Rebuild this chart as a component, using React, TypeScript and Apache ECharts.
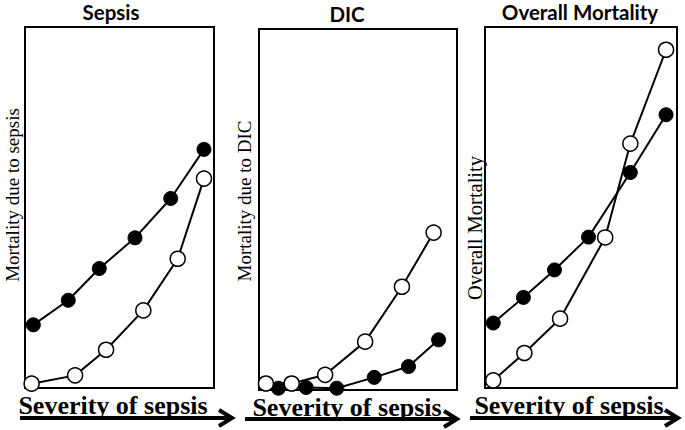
import React, { useEffect, useRef } from "react";
import * as echarts from "echarts";

// Panel titles and axis labels
const panelTitles = ["Sepsis", "DIC", "Overall Mortality"];
const yAxisLabels = ["Mortality due to sepsis", "Mortality due to DIC", "Overall Mortality"];
const xAxisLabel = "Severity of sepsis";

// Sepsis panel (relative units 0-100)
const sepsisFilledX = [4.4, 22.9, 39.3, 58.2, 77.1, 94.7];
const sepsisFilledY = [17.5, 24.3, 33.1, 41.6, 52.5, 66.1];
const sepsisOpenX = [3.5, 26.5, 42.9, 62.6, 80.8, 94.7];
const sepsisOpenY = [1.2, 3.5, 10.6, 21.5, 35.8, 58.0];

// DIC panel
const dicFilledX = [9.8, 23.8, 39.3, 58.2, 75.5, 90.7];
const dicFilledY = [0.5, 0.7, 0.5, 3.5, 6.5, 13.9];
const dicOpenX = [3.5, 16.5, 33.4, 53.6, 72.2, 88.2];
const dicOpenY = [1.8, 1.8, 4.2, 13.4, 28.6, 43.6];

// Overall mortality panel
const overallFilledX = [4.3, 20.0, 36.2, 53.9, 75.7, 94.3];
const overallFilledY = [18.0, 25.1, 32.7, 41.8, 59.7, 75.7];
const overallOpenX = [4.3, 20.5, 39.1, 62.6, 75.7, 94.3];
const overallOpenY = [2.1, 9.7, 19.2, 41.7, 67.7, 93.7];

const zip = (xs: number[], ys: number[]) => xs.map((x, i) => [x, ys[i]]);

export default function App() {
  const ref = useRef<HTMLDivElement>(null);

  useEffect(() => {
    if (!ref.current) return;
    const chart = echarts.init(ref.current, undefined, { renderer: "svg" });

    const grids = [
      { left: 25, top: 27, width: 189, height: 361 },
      { left: 259, top: 29, width: 198, height: 361 },
      { left: 485, top: 27, width: 192, height: 361 },
    ].map((g) => ({
      ...g,
      show: true,
      borderColor: "#000",
      borderWidth: 2,
      backgroundColor: "transparent",
    }));

    const axisCommon = {
      type: "value" as const,
      min: 0,
      max: 100,
      axisLine: { show: false },
      axisTick: { show: false },
      axisLabel: { show: false },
      splitLine: { show: false },
    };

    const panels = [
      { filled: zip(sepsisFilledX, sepsisFilledY), open: zip(sepsisOpenX, sepsisOpenY) },
      { filled: zip(dicFilledX, dicFilledY), open: zip(dicOpenX, dicOpenY) },
      { filled: zip(overallFilledX, overallFilledY), open: zip(overallOpenX, overallOpenY) },
    ];

    const series: any[] = [];
    panels.forEach((p, i) => {
      series.push({
        type: "line",
        xAxisIndex: i,
        yAxisIndex: i,
        data: p.filled,
        symbol: "circle",
        symbolSize: 14,
        lineStyle: { color: "#000", width: 2 },
        itemStyle: { color: "#000", borderColor: "#000", borderWidth: 1 },
        z: 2,
      });
      series.push({
        type: "line",
        xAxisIndex: i,
        yAxisIndex: i,
        data: p.open,
        symbol: "circle",
        symbolSize: 15,
        lineStyle: { color: "#000", width: 2 },
        itemStyle: { color: "#fff", borderColor: "#000", borderWidth: 1.5 },
        z: 3,
      });
    });

    const titlePos = [
      [111, 12],
      [347, 14],
      [580, 12],
    ];
    const yLabelPos = [
      [12.5, 195],
      [244.5, 201],
      [474.5, 228],
    ];
    const yLabelSize = [19, 19, 20.5];
    const xLabelPos = [
      [113, 405],
      [347, 407],
      [569, 405],
    ];
    const arrows = [
      { x1: 20, x2: 232, y: 418 },
      { x1: 245, x2: 457, y: 419 },
      { x1: 470, x2: 678, y: 418 },
    ];

    const graphic: any[] = [];
    panelTitles.forEach((t, i) => {
      graphic.push({
        type: "text",
        x: titlePos[i][0],
        y: titlePos[i][1],
        style: {
          text: t,
          font: "bold 20.5px Lato",
          fill: "#000",
          textAlign: "center",
          textVerticalAlign: "middle",
        },
      });
    });
    yAxisLabels.forEach((t, i) => {
      graphic.push({
        type: "text",
        x: yLabelPos[i][0],
        y: yLabelPos[i][1],
        rotation: Math.PI / 2,
        style: {
          text: t,
          font: `${yLabelSize[i]}px "Liberation Serif"`,
          fill: "#000",
          textAlign: "center",
          textVerticalAlign: "middle",
        },
      });
    });
    xLabelPos.forEach((pos) => {
      graphic.push({
        type: "text",
        x: pos[0],
        y: pos[1],
        z: 10,
        style: {
          text: xAxisLabel,
          font: 'bold 26px "Liberation Serif"',
          fill: "#000",
          textAlign: "center",
          textVerticalAlign: "middle",
        },
      });
    });
    arrows.forEach((a) => {
      graphic.push({
        type: "line",
        z: 9,
        shape: { x1: a.x1, y1: a.y, x2: a.x2 - 3, y2: a.y },
        style: { stroke: "#000", lineWidth: 4 },
      });
      graphic.push({
        type: "polyline",
        z: 9,
        shape: {
          points: [
            [a.x2 - 13, a.y - 8],
            [a.x2, a.y],
            [a.x2 - 13, a.y + 8],
          ],
        },
        style: { stroke: "#000", lineWidth: 4, fill: "none", lineJoin: "miter" },
      });
    });

    chart.setOption({
      animation: false,
      backgroundColor: "#fff",
      grid: grids,
      xAxis: grids.map((_, i) => ({ ...axisCommon, gridIndex: i })),
      yAxis: grids.map((_, i) => ({ ...axisCommon, gridIndex: i })),
      series,
      graphic,
    });

    return () => chart.dispose();
  }, []);

  return (
    <div
      ref={ref}
      style={{ position: "fixed", left: 0, top: 0, width: 685, height: 430 }}
    />
  );
}
